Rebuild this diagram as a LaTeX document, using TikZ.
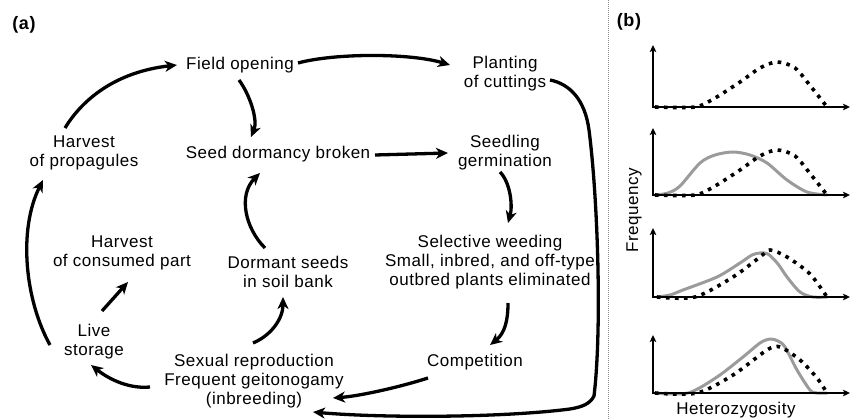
\documentclass[tikz,border=0pt]{standalone}
\usepackage{fontspec}
\setmainfont[LetterSpace=3]{Liberation Sans}
\usetikzlibrary{arrows.meta,calc}
\definecolor{curvegray}{RGB}{155,155,155}
\definecolor{sepgray}{RGB}{140,140,140}
\begin{document}
\begin{tikzpicture}[x=1pt,y=-1pt,
  lbl/.style={font=\fontsize{17}{19}\selectfont, align=center, inner sep=0pt},
  panel/.style={font=\fontsize{18}{20}\selectfont\bfseries, inner sep=0pt},
  flow/.style={line width=3.3pt, -{Stealth[length=12pt,width=11pt,inset=3.5pt]}},
  axisln/.style={line width=2.4pt, -{Stealth[length=7pt,width=6.5pt,inset=1.5pt]}},
  dotc/.style={line width=3.6pt, dash pattern=on 3.6pt off 5.4pt},
  grayc/.style={line width=3pt, draw=curvegray, line cap=round, line join=round}]
\useasboundingbox (0,0) rectangle (850,419);

% ---------- panel (a) ----------
\node[panel] (pa) at (24,25) {(a)};
\node[lbl] (fo) at (240,65) {Field opening};
\node[lbl] (pc) at (505,74) {Planting\\of cuttings};
\node[lbl] (hp) at (84,153) {Harvest\\of propagules};
\node[lbl] (sd) at (278,154) {Seed dormancy broken};
\node[lbl] (sg) at (505,153) {Seedling\\germination};
\node[lbl] (hc) at (122,253) {Harvest\\of consumed part};
\node[lbl] (ds) at (288,272) {Dormant seeds\\in soil bank};
\node[lbl] (sw) at (490,262) {Selective weeding\\Small, inbred, and off-type\\outbred plants eliminated};
\node[lbl] (ls) at (94,342) {Live\\storage};
\node[lbl] (sr) at (254,381) {Sexual reproduction\\Frequent geitonogamy\\(inbreeding)};
\node[lbl] (co) at (475,362) {Competition};

\draw[flow] ($(hp)+(-19,-25)$) .. controls (82,100) and (115,72) .. ($(fo)+(-63,0)$);
\draw[flow] ($(fo)+(58,-2)$) .. controls (335,53) and (410,53) .. ($(pc)+(-55,-9)$);
\draw[flow] ($(fo)+(-1,15)$) .. controls (250,95) and (258,120) .. ($(sd)+(-27,-17)$);
\draw[flow] ($(sd)+(97,1)$) -- ($(sg)+(-57,0)$);
\draw[flow] ($(sg)+(-5,19)$) .. controls (510,182) and (513,205) .. ($(sw)+(18,-39)$);
\draw[flow] ($(sw)+(18,41)$) .. controls (508,320) and (505,333) .. ($(co)+(15,-17)$);
\draw[flow] ($(co)+(-47,16)$) .. controls (400,387) and (360,396) .. ($(sr)+(79,17)$);
\draw[flow] ($(pc)+(45,6)$) .. controls (570,84) and (585,100) .. (589,130)
   .. controls (598,200) and (602,330) .. (594,396)
   .. controls (590,404) and (582,407) .. (570,409)
   .. controls (500,418) and (380,418) .. ($(sr)+(59,31)$);
\draw[flow] ($(sr)+(-104,6)$) .. controls (130,389) and (110,380) .. ($(ls)+(-3,23)$);
\draw[flow] ($(ls)+(8,-31)$) -- ($(hc)+(6,29)$);
\draw[flow] ($(sr)+(-1,-38)$) .. controls (272,335) and (283,318) .. ($(ds)+(-5,25)$);
\draw[flow] ($(ds)+(-23,-24)$) .. controls (245,228) and (238,195) .. ($(sd)+(-18,19)$);
\draw[flow] ($(ls)+(-44,3)$) .. controls (25,300) and (18,230) .. ($(hp)+(-41,27)$);

% separator
\draw[sepgray, line width=0.8pt, dash pattern=on 0.8pt off 1.2pt] (608,0) -- (608,419);

% ---------- panel (b) ----------
\node[panel] (pb) at (629,22) {(b)};
\node[lbl, rotate=90] (fq) at (634,210) {Frequency};
\node[lbl] (hz) at (736,410) {Heterozygosity};

% plot 1 (baseline 107)
\draw[dotc] plot[smooth] coordinates {(655,107) (695,107) (715,98) (740,82) (760,68) (777,62) (795,68) (812,88) (827,107)};
\draw[axisln] (653,107) -- (653,45);
\draw[axisln] (652,107) -- (850,107);

% plot 2 (baseline 195)
\draw[grayc] plot[smooth] coordinates {(655,195) (668,193) (680,186) (700,163) (715,155) (733,152) (750,155) (767,163) (787,180) (807,192) (827,195)};
\draw[dotc] plot[smooth] coordinates {(655,195) (695,195) (715,186) (740,170) (760,156) (777,150) (795,156) (812,176) (827,195)};
\draw[axisln] (653,195) -- (653,128);
\draw[axisln] (652,195) -- (850,195);

% plot 3 (baseline 297)
\draw[grayc] plot[smooth] coordinates {(657,297) (670,295) (683,290) (717,277) (740,263) (752,255) (760,253) (768,254) (778,264) (787,277) (800,292) (813,297) (827,297)};
\draw[dotc] plot[smooth] coordinates {(657,297) (695,297) (733,277) (760,257) (770,250) (787,257) (810,274) (827,297)};
\draw[axisln] (653,297) -- (653,228);
\draw[axisln] (652,297) -- (850,297);

% plot 4 (baseline 393)
\draw[grayc] plot[smooth] coordinates {(655,393) (688,393) (717,377) (743,357) (760,343) (770,339) (778,341) (785,347) (797,370) (810,390) (817,393) (827,393)};
\draw[dotc] plot[smooth] coordinates {(655,393) (697,393) (733,375) (767,350) (780,347) (800,360) (817,378) (827,393)};
\draw[axisln] (653,393) -- (653,335);
\draw[axisln] (652,393) -- (850,393);
\end{tikzpicture}
\end{document}
